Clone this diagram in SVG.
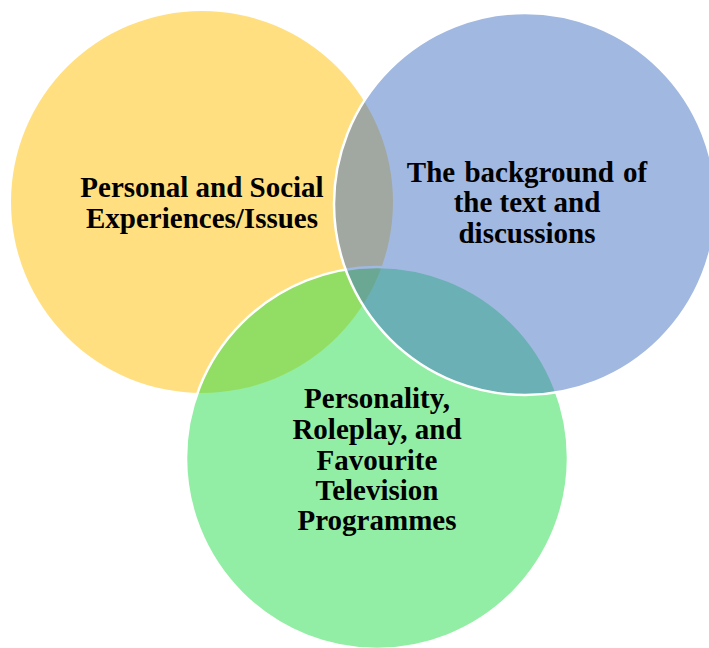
<svg xmlns="http://www.w3.org/2000/svg" width="709" height="648" viewBox="0 0 709 648">
  <style>
    .c { fill-opacity: 0.5; stroke: #ffffff; stroke-width: 2.5; }
    .t { font-family: "Liberation Serif", "Times New Roman", serif; font-weight: bold; font-size: 29px; fill: #000000; text-anchor: middle; }
  </style>
  <rect x="0" y="0" width="709" height="648" fill="#ffffff"/>
  <g id="node-personal-social">
    <circle cx="202" cy="202" r="191" fill="#FFC000" fill-opacity="0.5" stroke="none"/>
    <text class="t" x="202" y="197">Personal and Social</text>
    <text class="t" x="202" y="228">Experiences/Issues</text>
  </g>
  <g id="node-personality">
    <circle class="c" cx="377" cy="458" r="191" fill="#25DD49"/>
    <text class="t" x="377" y="408">Personality,</text>
    <text class="t" x="377" y="439">Roleplay, and</text>
    <text class="t" x="377" y="470">Favourite</text>
    <text class="t" x="377" y="500">Television</text>
    <text class="t" x="377" y="530">Programmes</text>
  </g>
  <g id="node-background">
    <circle class="c" cx="525" cy="204" r="191" fill="#4472C4"/>
    <text class="t" x="527" y="182" word-spacing="2">The background of</text>
    <text class="t" x="527" y="212">the text and</text>
    <text class="t" x="527" y="243">discussions</text>
  </g>
  <g id="connectors"></g>
</svg>
